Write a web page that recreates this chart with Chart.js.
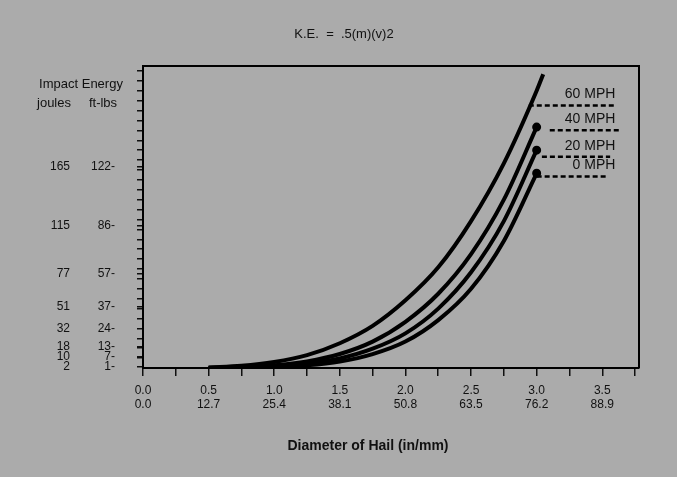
<!DOCTYPE html>
<html>
<head>
<meta charset="utf-8">
<title>Hail impact energy</title>
<script src="https://cdn.jsdelivr.net/npm/chart.js@4.4.1/dist/chart.umd.min.js"></script>
<style>
    body { margin: 0; background: #ababab; }
    #wrap { position: relative; width: 677px; height: 477px; font-family: "Liberation Sans", Arial, sans-serif; color: #111; }
    canvas { position: absolute; left: 0; top: 0; }
    .txt { position: absolute; white-space: pre; line-height: 1; transform: translate(-50%, -50%); }
</style>
</head>
<body>
<div id="wrap">
    <canvas id="chartCanvas" width="677" height="477"></canvas>
    <div class="txt" style="left:344px; top:33px; font-size:13px;">K.E.  =  .5(m)(v)2</div>
    <div class="txt" style="left:81px; top:83px; font-size:13px;">Impact Energy</div>
    <div class="txt" style="left:54px; top:102px; font-size:13px;">joules</div>
    <div class="txt" style="left:103px; top:102px; font-size:13px;">ft-lbs</div>
    <div class="txt" style="left:368px; top:445px; font-size:14px; font-weight:bold;">Diameter of Hail (in/mm)</div>
</div>
<script>
// diameters in inches, energy in ft-lbs
const diameters = [0.5, 0.75, 1.0, 1.25, 1.5, 1.75, 2.0, 2.25, 2.5, 2.75, 3.0];
const diameters60 = [0.5, 0.75, 1.0, 1.25, 1.5, 1.75, 2.0, 2.25, 2.5, 2.75, 3.0, 3.05];
const energy0 = [0, 0.1, 0.5, 1.6, 3.9, 8.4, 16, 29, 48, 77, 118];
const energy20 = [0, 0.3, 0.9, 2.6, 5.8, 11.7, 21, 36, 58, 89, 132];
const energy40 = [0.1, 0.5, 1.6, 4, 8.5, 16, 28, 45, 69, 102, 146];
const energy60 = [0.3, 1.3, 3.6, 7.8, 15, 25.5, 41, 61, 89, 124, 168, 178];

const seriesNames = ["60 MPH", "40 MPH", "20 MPH", "0 MPH"];
const leaderStart = [2.94, 3.1, 3.04, 3.0];
const leaderEnd = [3.6, 3.63, 3.56, 3.53];
const leaderLevel = [159, 144, 128, 116];

const inchTicks = [0.0, 0.5, 1.0, 1.5, 2.0, 2.5, 3.0, 3.5];
const mmTicks = ["0.0", "12.7", "25.4", "38.1", "50.8", "63.5", "76.2", "88.9"];
// each joule label sits on the same row as its ft-lb label
const ftLbTicks = [122, 86, 57, 37, 24, 13, 7, 1];
const jouleTicks = [165, 115, 77, 51, 32, 18, 10, 2];

const ftLbMax = 183;

function points(xs, ys) {
    return ys.map((y, i) => ({ x: xs[i], y: y }));
}

function curve(xs, ys, marker) {
    return {
        data: points(xs, ys),
        borderColor: "#000",
        backgroundColor: "#000",
        borderWidth: 4,
        cubicInterpolationMode: "monotone",
        pointRadius: (c) => (marker && c.dataIndex === ys.length - 1 ? 2.5 : 0)
    };
}

function leader(i) {
    return {
        data: [{ x: leaderStart[i], y: leaderLevel[i] }, { x: leaderEnd[i], y: leaderLevel[i] }],
        borderColor: "#000",
        borderWidth: 2.5,
        borderDash: [5, 3],
        pointRadius: 0
    };
}

const frame = {
    id: "frame",
    afterDatasetsDraw(chart) {
        const { ctx, chartArea, scales } = chart;
        ctx.save();
        ctx.strokeStyle = "#000";
        ctx.lineWidth = 2;
        ctx.beginPath();
        ctx.moveTo(chartArea.left, chartArea.top);
        ctx.lineTo(chartArea.right, chartArea.top);
        ctx.lineTo(chartArea.right, chartArea.bottom);
        ctx.stroke();

        ctx.fillStyle = "#111";
        ctx.font = "14px 'Liberation Sans', Arial, sans-serif";
        ctx.textAlign = "right";
        ctx.textBaseline = "middle";
        seriesNames.forEach((name, i) => {
            const px = scales.x.getPixelForValue(3.6);
            const py = scales.y.getPixelForValue(leaderLevel[i]) - 11;
            ctx.fillText(name, px, py);
        });
        ctx.restore();
    }
};

const minorFtLb = [];
for (let v = 6; v < ftLbMax; v += 6) {
    if (!ftLbTicks.includes(v)) minorFtLb.push(v);
}

const xTickValues = [];
for (let v = 0; v <= 3.75; v += 0.25) xTickValues.push(Math.round(v * 100) / 100);

const tickFont = { family: "'Liberation Sans', Arial, sans-serif", size: 12 };

const chart = new Chart(document.getElementById("chartCanvas"), {
    type: "line",
    data: {
        datasets: [
            curve(diameters60, energy60, false),
            curve(diameters, energy40, true),
            curve(diameters, energy20, true),
            curve(diameters, energy0, true),
            leader(0), leader(1), leader(2), leader(3)
        ]
    },
    options: {
        responsive: false,
        animation: false,
        layout: { padding: { top: 66, right: 38, left: 0, bottom: 0 } },
        plugins: { legend: { display: false }, tooltip: { enabled: false } },
        scales: {
            x: {
                type: "linear",
                min: 0,
                max: 3.78,
                afterBuildTicks: (axis) => { axis.ticks = xTickValues.map(v => ({ value: v })); },
                afterFit: (axis) => { axis.height = 109; },
                ticks: {
                    autoSkip: false,
                    maxRotation: 0,
                    padding: 7,
                    color: "#111",
                    font: tickFont,
                    callback: (value) => {
                        const i = inchTicks.indexOf(value);
                        return i < 0 ? "" : [inchTicks[i].toFixed(1), mmTicks[i]];
                    }
                },
                grid: { drawOnChartArea: false, tickLength: 8, color: "#111", lineWidth: 1.5 },
                border: { color: "#000", width: 2 }
            },
            y: {
                type: "linear",
                position: "left",
                weight: 0,
                min: 0,
                max: ftLbMax,
                afterBuildTicks: (axis) => {
                    axis.ticks = minorFtLb.concat(ftLbTicks).sort((a, b) => a - b).map(v => ({ value: v }));
                },
                afterFit: (axis) => { axis.width = 68; },
                ticks: {
                    autoSkip: false,
                    padding: 22,
                    color: "#111",
                    font: tickFont,
                    callback: (value) => (ftLbTicks.includes(value) ? value + "-" : "")
                },
                grid: { drawOnChartArea: false, tickLength: 6, color: "#111", lineWidth: 1.5 },
                border: { color: "#000", width: 2 }
            },
            yj: {
                type: "linear",
                position: "left",
                weight: 1,
                min: 0,
                max: ftLbMax,
                afterBuildTicks: (axis) => { axis.ticks = ftLbTicks.map(v => ({ value: v })); },
                afterFit: (axis) => { axis.width = 75; },
                ticks: {
                    autoSkip: false,
                    padding: 5,
                    color: "#111",
                    font: tickFont,
                    callback: (value) => String(jouleTicks[ftLbTicks.indexOf(value)])
                },
                grid: { display: false, drawTicks: false },
                border: { display: false }
            }
        }
    },
    plugins: [frame]
});
</script>
</body>
</html>
